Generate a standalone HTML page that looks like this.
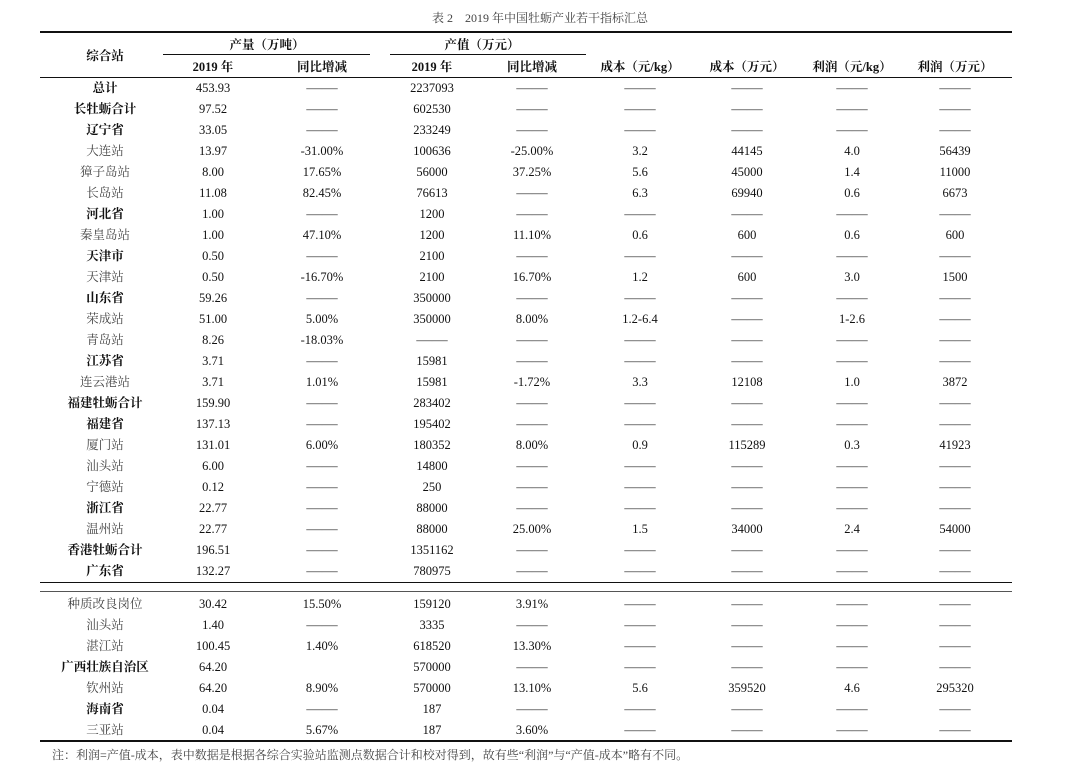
<!DOCTYPE html>
<html><head><meta charset="utf-8">
<style>
html,body{margin:0;padding:0;background:#fff;}
#page{position:relative;width:1080px;height:770px;overflow:hidden;font-family:"Liberation Serif","Noto Serif CJK SC",serif;color:#111;}
.c{position:absolute;transform:translate(-50%,-50%);white-space:nowrap;font-size:12.5px;line-height:14px;}
.h{font-weight:bold;font-size:12.5px;}
.rule{position:absolute;left:40px;width:972px;background:#111;}
.cn{font-family:"Liberation Serif","Noto Serif CJK SC",serif;color:#444;}
.b{font-weight:bold;color:#111;}
</style></head>
<body>
<div id="page">
<div class="c cn" style="left:540px;top:18px;font-size:12px;">表 2　2019 年中国牡蛎产业若干指标汇总</div>
<div class="rule" style="top:31px;height:2px;"></div>
<div class="rule" style="top:77px;height:1px;"></div>
<div class="rule" style="top:582px;height:1px;"></div>
<div class="rule" style="top:591px;height:1px;background:#555;"></div>
<div class="rule" style="top:740px;height:2px;"></div>
<div style="position:absolute;left:163px;width:207px;top:54px;height:1px;background:#111;"></div>
<div style="position:absolute;left:390px;width:196px;top:54px;height:1px;background:#111;"></div>
<div class="c h" style="left:105px;top:56px;">综合站</div>
<div class="c h" style="left:267px;top:45px;">产量（万吨）</div>
<div class="c h" style="left:482px;top:45px;">产值（万元）</div>
<div class="c h" style="left:213px;top:67px;">2019 年</div>
<div class="c h" style="left:322px;top:67px;">同比增减</div>
<div class="c h" style="left:432px;top:67px;">2019 年</div>
<div class="c h" style="left:532px;top:67px;">同比增减</div>
<div class="c h" style="left:640px;top:67px;">成本（元/kg）</div>
<div class="c h" style="left:747px;top:67px;">成本（万元）</div>
<div class="c h" style="left:852px;top:67px;">利润（元/kg）</div>
<div class="c h" style="left:955px;top:67px;">利润（万元）</div>
<div class="c cn" style="left:40px;top:755px;transform:translate(0,-50%);font-size:12px;">　注：利润=产值-成本，表中数据是根据各综合实验站监测点数据合计和校对得到，故有些“利润”与“产值-成本”略有不同。</div>
</div>
<script>
const D='——';
const rows1=[
['总计',1,'453.93',D,'2237093',D,D,D,D,D],
['长牡蛎合计',1,'97.52',D,'602530',D,D,D,D,D],
['辽宁省',1,'33.05',D,'233249',D,D,D,D,D],
['大连站',0,'13.97','-31.00%','100636','-25.00%','3.2','44145','4.0','56439'],
['獐子岛站',0,'8.00','17.65%','56000','37.25%','5.6','45000','1.4','11000'],
['长岛站',0,'11.08','82.45%','76613',D,'6.3','69940','0.6','6673'],
['河北省',1,'1.00',D,'1200',D,D,D,D,D],
['秦皇岛站',0,'1.00','47.10%','1200','11.10%','0.6','600','0.6','600'],
['天津市',1,'0.50',D,'2100',D,D,D,D,D],
['天津站',0,'0.50','-16.70%','2100','16.70%','1.2','600','3.0','1500'],
['山东省',1,'59.26',D,'350000',D,D,D,D,D],
['荣成站',0,'51.00','5.00%','350000','8.00%','1.2-6.4',D,'1-2.6',D],
['青岛站',0,'8.26','-18.03%',D,D,D,D,D,D],
['江苏省',1,'3.71',D,'15981',D,D,D,D,D],
['连云港站',0,'3.71','1.01%','15981','-1.72%','3.3','12108','1.0','3872'],
['福建牡蛎合计',1,'159.90',D,'283402',D,D,D,D,D],
['福建省',1,'137.13',D,'195402',D,D,D,D,D],
['厦门站',0,'131.01','6.00%','180352','8.00%','0.9','115289','0.3','41923'],
['汕头站',0,'6.00',D,'14800',D,D,D,D,D],
['宁德站',0,'0.12',D,'250',D,D,D,D,D],
['浙江省',1,'22.77',D,'88000',D,D,D,D,D],
['温州站',0,'22.77',D,'88000','25.00%','1.5','34000','2.4','54000'],
['香港牡蛎合计',1,'196.51',D,'1351162',D,D,D,D,D],
['广东省',1,'132.27',D,'780975',D,D,D,D,D]];
const rows2=[
['种质改良岗位',0,'30.42','15.50%','159120','3.91%',D,D,D,D],
['汕头站',0,'1.40',D,'3335',D,D,D,D,D],
['湛江站',0,'100.45','1.40%','618520','13.30%',D,D,D,D],
['广西壮族自治区',1,'64.20','','570000',D,D,D,D,D],
['钦州站',0,'64.20','8.90%','570000','13.10%','5.6','359520','4.6','295320'],
['海南省',1,'0.04',D,'187',D,D,D,D,D],
['三亚站',0,'0.04','5.67%','187','3.60%',D,D,D,D]];
const colX=[105,213,322,432,532,640,747,852,955];
const page=document.getElementById('page');
function draw(rows,y0,sec){
 rows.forEach((r,i)=>{
  const y=y0+21*i;
  const vals=[r[0]].concat(r.slice(2));
  vals.forEach((v,j)=>{
   if(v==='')return;
   const el=document.createElement('div');
   el.className='c'+(j===0?(' cn'+(r[1]?' b':'')):'');
   el.style.left=colX[j]+'px';el.style.top=y+'px';
   if(v===D){el.style.letterSpacing='0px';el.style.color='#222';el.style.transform='translate(-50%,-50%) scaleX(1.25)';}
   el.textContent=v;
   
   
   page.appendChild(el);
  });
 });
}
draw(rows1,88,1);
draw(rows2,604,2);
</script>
</body></html>
